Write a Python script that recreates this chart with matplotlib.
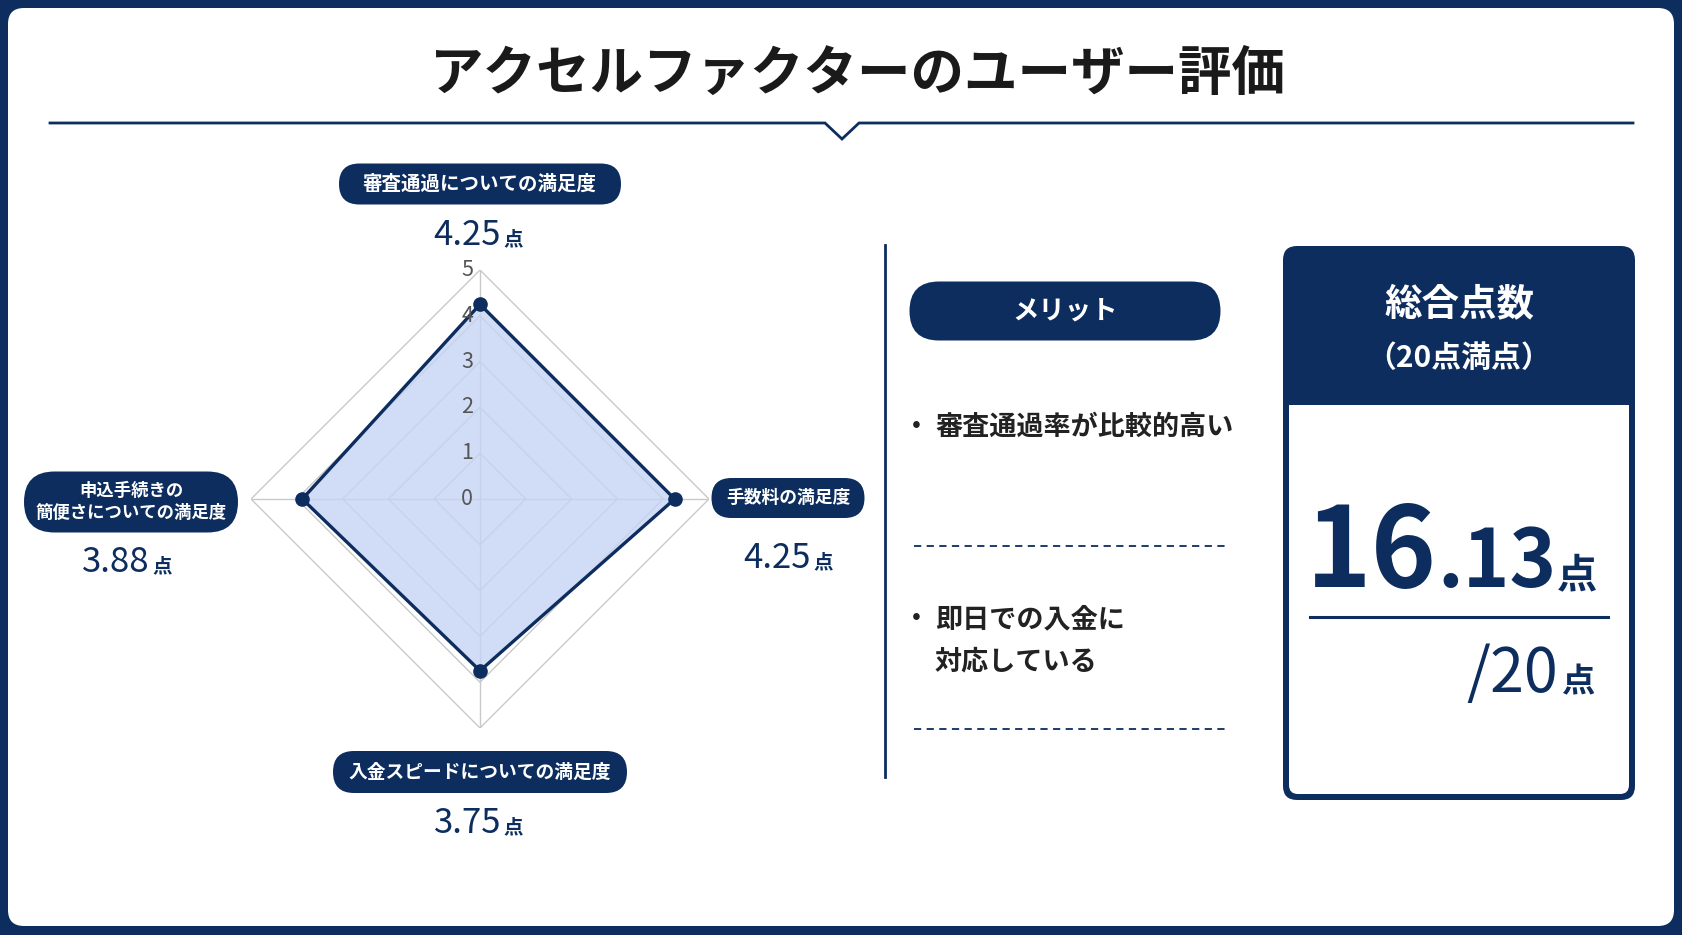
import numpy as np
import matplotlib.pyplot as plt
from matplotlib.patches import FancyBboxPatch, Rectangle

plt.rcParams['font.family'] = ['Noto Sans CJK JP', 'DejaVu Sans']

# data
title = 'アクセルファクターのユーザー評価'
categories = ['審査通過についての満足度', '手数料の満足度',
              '入金スピードについての満足度', '申込手続きの\n簡便さについての満足度']
scores = [4.25, 4.25, 3.75, 3.88]
rings = [0, 1, 2, 3, 4, 5]
merits = ['審査通過率が比較的高い', '即日での入金に\n対応している']
full_marks = 20

navy = '#0c2d5e'
W, H = 1682, 935

fig = plt.figure(figsize=(W / 100, H / 100), dpi=100, facecolor=navy)
bg = fig.add_axes([0, 0, 1, 1])
bg.set_xlim(0, W)
bg.set_ylim(H, 0)
bg.axis('off')

def pill(cx, cy, w, h, color=navy, r=None):
    if r is None:
        r = h / 2
    bg.add_patch(FancyBboxPatch((cx - w / 2, cy - h / 2), w, h,
                                boxstyle='round,pad=0,rounding_size=%s' % r,
                                fc=color, ec='none', zorder=2))

# white page inside the navy frame
bg.add_patch(FancyBboxPatch((8, 8), W - 16, H - 17,
                            boxstyle='round,pad=0,rounding_size=16',
                            fc='white', ec='none', zorder=1))

# title + underline with notch
bg.text(858, 74, title, ha='center', va='center', fontsize=38.5,
        fontweight='bold', color='#1a1a1a', zorder=3)
bg.plot([50, 825, 842, 859, 1633], [123, 123, 139, 123, 123],
        color=navy, lw=2, zorder=3, solid_joinstyle='miter')

# radar chart
cx, cy, R = 480, 499, 229
rad = fig.add_axes([(cx - R) / W, (H - cy - R) / H, 2 * R / W, 2 * R / H],
                   projection='polar')
rad.set_facecolor('none')
rad.set_theta_zero_location('N')
rad.set_theta_direction(-1)
rad.set_ylim(0, 5)
rad.grid(False)
rad.spines['polar'].set_visible(False)
rad.set_xticks([])
rad.set_yticks([])

angles = np.linspace(0, 2 * np.pi, len(scores), endpoint=False)
closed = np.append(angles, angles[0])
for r in rings[1:]:
    rad.plot(closed, [r] * len(closed), color='#c9c9c9', lw=1, zorder=1)
for a in angles:
    rad.plot([a, a], [0, rings[-1]], color='#c9c9c9', lw=1, zorder=1)

vals = np.append(scores, scores[0])
rad.fill(closed, vals, color='#c5d4f4', alpha=0.78, zorder=2)
rad.plot(closed, vals, color=navy, lw=2.4, zorder=3)
rad.plot(angles, scores, 'o', color=navy, ms=9.5, zorder=4)
for r in rings:
    rad.annotate(str(r), (0, r), xytext=(-5, 0), textcoords='offset points',
                 ha='right', va='center', fontsize=15.5, color='#555555', zorder=5)

# category pills and values
pill_pos = [(480, 184, 282, 41, 14), (788, 498, 153, 40, 12.8),
            (480, 772, 294, 42, 13.5), (131, 502, 214, 61, 12.5)]
val_pos = [(501, 245), (811, 568), (501, 833), (150, 572)]
for cat, s, (px, py, pw, ph, fs), (vx, vy) in zip(categories, scores, pill_pos, val_pos):
    pill(px, py, pw, ph)
    bg.text(px, py, cat, ha='center', va='center', fontsize=fs,
            fontweight='bold', color='white', linespacing=1.25, zorder=3)
    bg.text(vx, vy, '%.2f' % s, ha='right', va='baseline', fontsize=25,
            color=navy, zorder=3)
    bg.text(vx + 2, vy, '点', ha='left', va='baseline', fontsize=14,
            fontweight='bold', color=navy, zorder=3)

# divider
bg.plot([885, 885], [245, 777], color=navy, lw=2, zorder=3)

# merits
pill(1065, 311, 311, 59)
bg.text(1065, 311, 'メリット', ha='center', va='center', fontsize=19,
        fontweight='bold', color='white', zorder=3)
merit_y = [425, 617]
for m, y in zip(merits, merit_y):
    bg.text(916, y, '•', ha='center', va='center', fontsize=19,
            color='#222222', zorder=3)
    bg.text(935, y - 12, m, ha='left', va='top', fontsize=19.5,
            fontweight='bold', color='#222222', linespacing=1.65, zorder=3)
for y in [546, 729]:
    bg.plot([914, 1228], [y, y], color=navy, lw=1.3, ls=(0, (4, 3)), zorder=3)

# total score box
bx0, by0, bx1, by1 = 1283, 246, 1635, 800
bg.add_patch(FancyBboxPatch((bx0, by0), bx1 - bx0, by1 - by0,
                            boxstyle='round,pad=0,rounding_size=14',
                            fc=navy, ec='none', zorder=2))
bg.add_patch(FancyBboxPatch((bx0 + 6, 405), bx1 - bx0 - 12, by1 - 6 - 405,
                            boxstyle='round,pad=0,rounding_size=9',
                            fc='white', ec='none', zorder=2))
bg.add_patch(Rectangle((bx0 + 6, 405), bx1 - bx0 - 12, 20,
                       fc='white', ec='none', zorder=2))
bg.text(1459, 304, '総合点数', ha='center', va='center', fontsize=27,
        fontweight='bold', color='white', zorder=3)
bg.text(1459, 358, '（%d点満点）' % full_marks, ha='center', va='center',
        fontsize=21.5, fontweight='bold', color='white', zorder=3)

total = sum(scores)
whole, frac = ('%.2f' % total).split('.')
bg.text(1437, 587, whole, ha='right', va='baseline', fontsize=80,
        fontweight='bold', color=navy, zorder=3)
bg.text(1437, 587, '.' + frac, ha='left', va='baseline', fontsize=57,
        fontweight='bold', color=navy, zorder=3)
bg.text(1557, 587, '点', ha='left', va='baseline', fontsize=29,
        fontweight='bold', color=navy, zorder=3)
bg.plot([1310, 1608], [617, 617], color=navy, lw=2.2, zorder=3)
bg.text(1558, 692, '/%d' % full_marks, ha='right', va='baseline', fontsize=44,
        color=navy, zorder=3)
bg.text(1562, 692, '点', ha='left', va='baseline', fontsize=24,
        fontweight='bold', color=navy, zorder=3)

fig.savefig('out.png', dpi=100, facecolor=fig.get_facecolor())
